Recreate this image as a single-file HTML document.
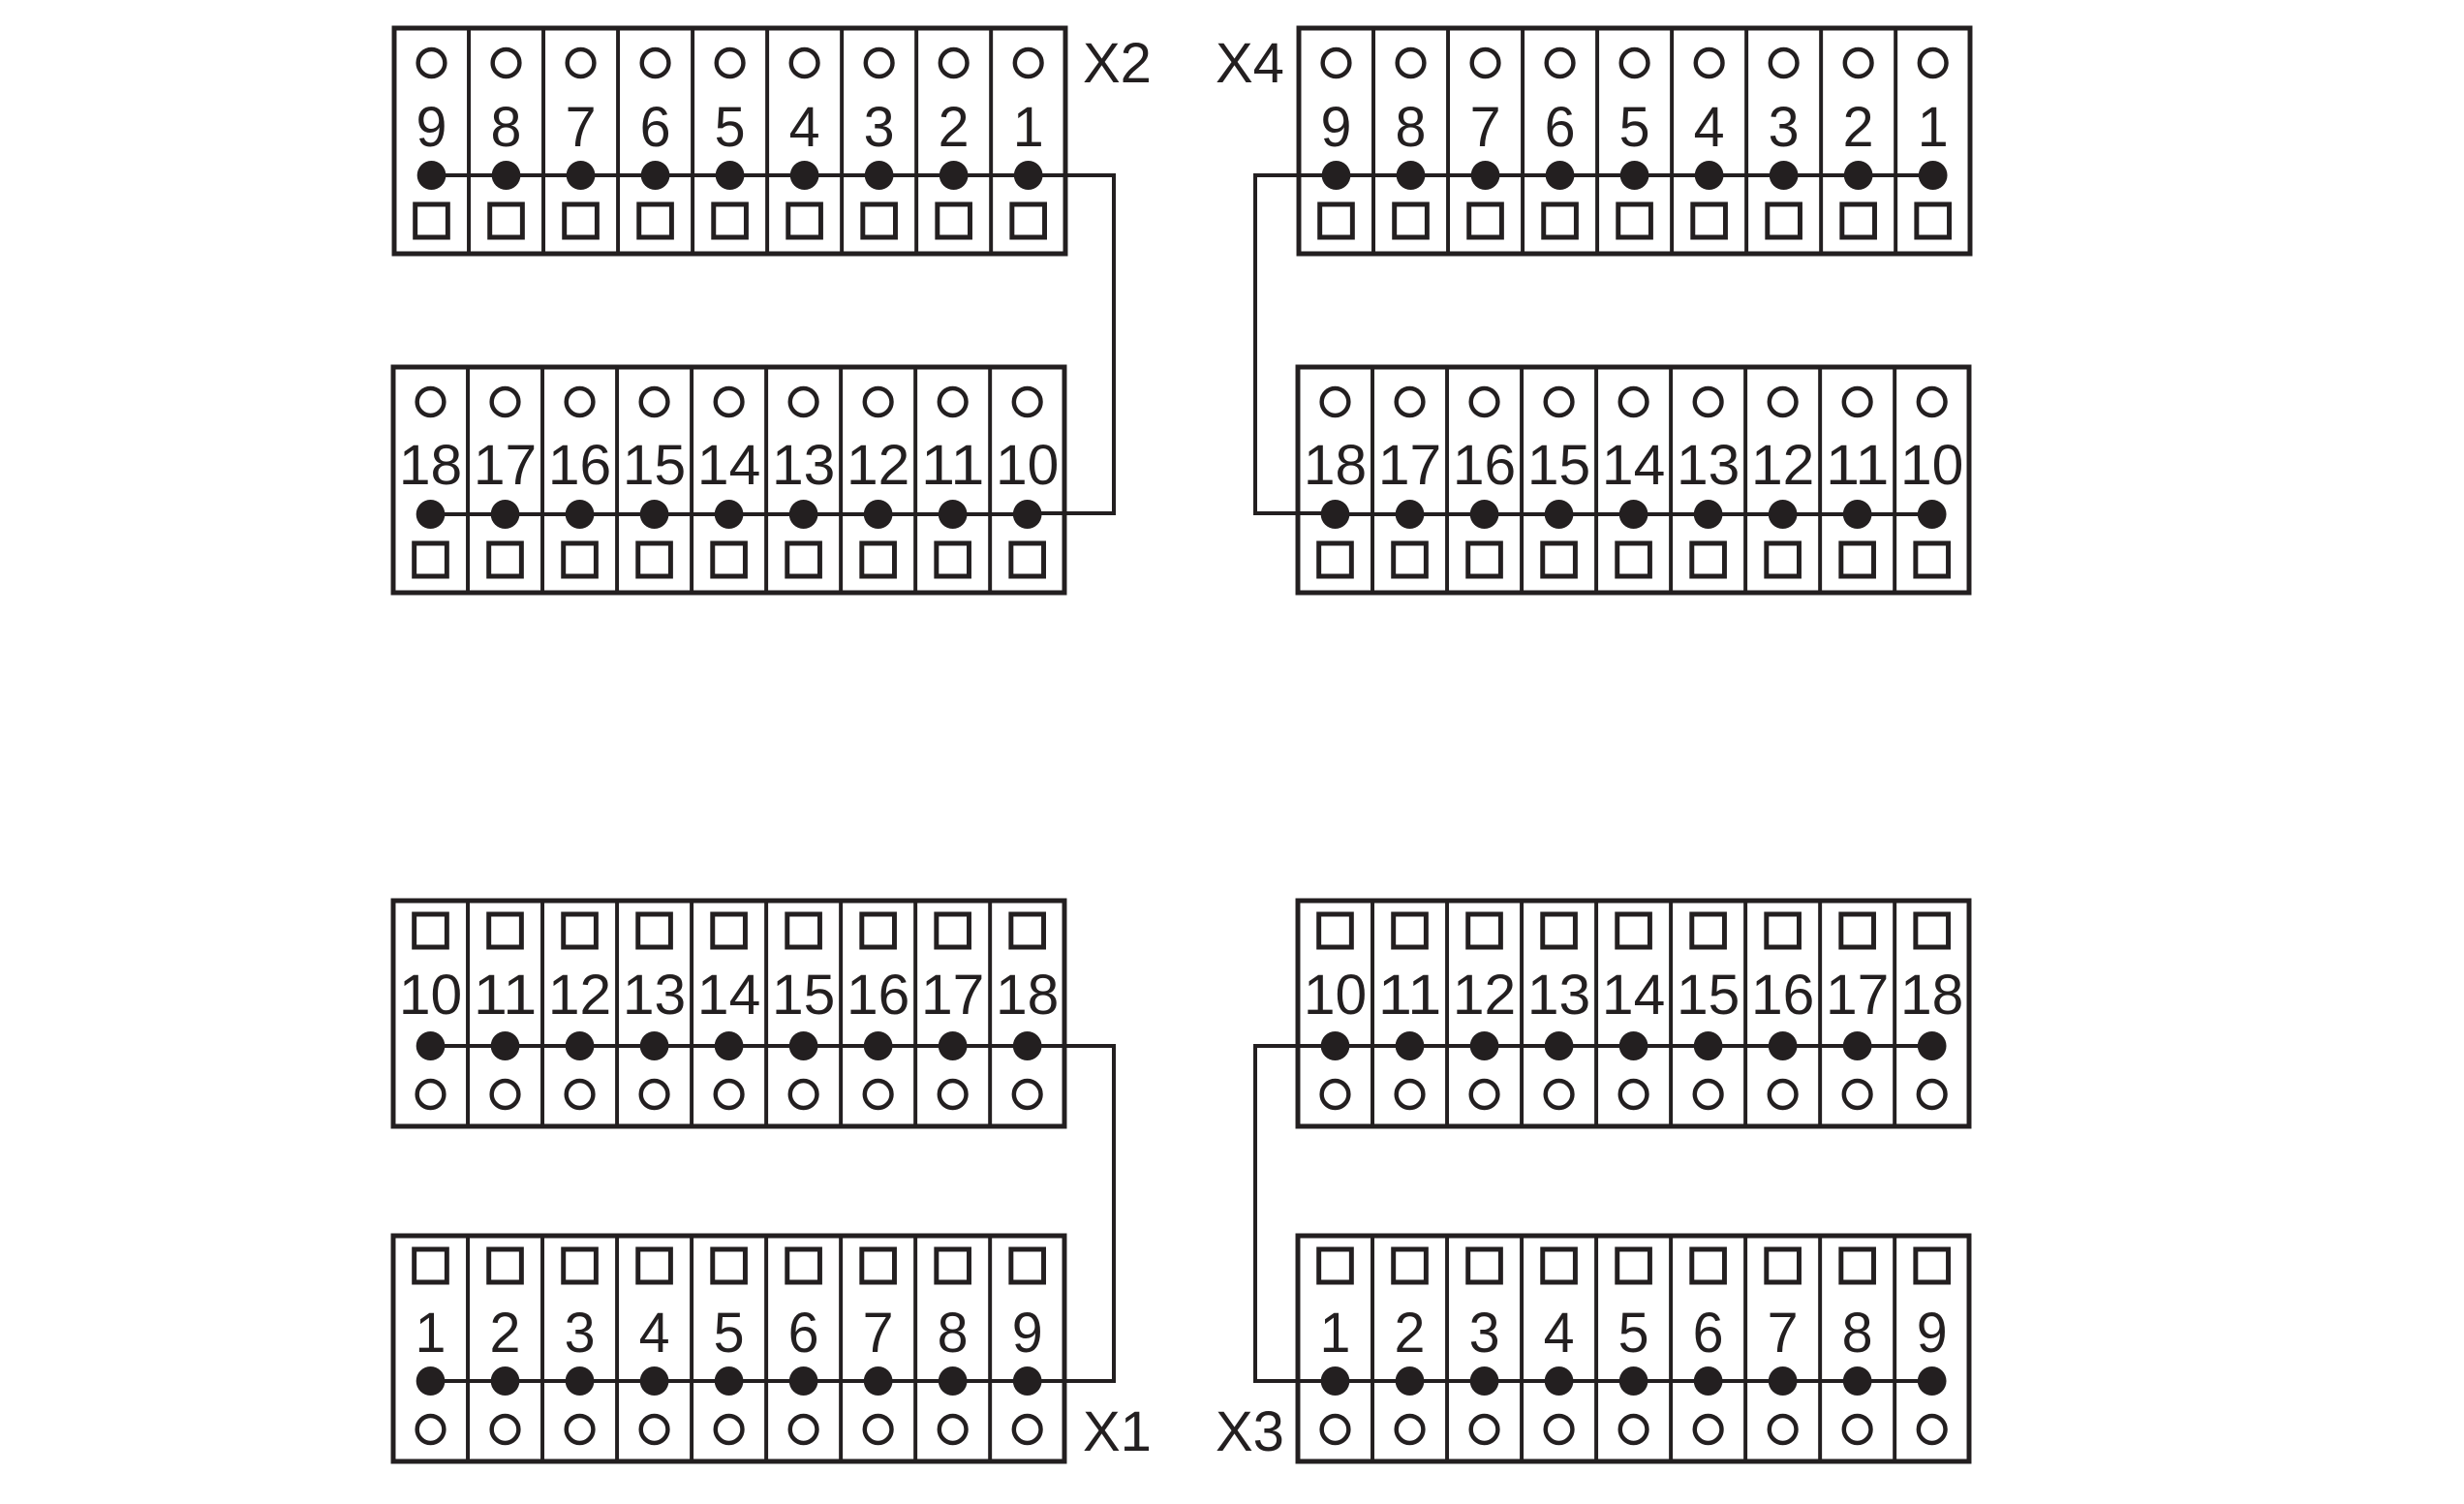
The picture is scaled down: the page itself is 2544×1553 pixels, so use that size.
<!DOCTYPE html>
<html><head><meta charset="utf-8"><style>html,body{margin:0;padding:0;background:#fff}svg{display:block}</style></head>
<body>
<svg width="2544" height="1553" viewBox="0 0 2544 1553" xmlns="http://www.w3.org/2000/svg" font-family="Liberation Sans, sans-serif">
<defs>
<g id="div" stroke="#231f20" stroke-width="4">
<line x1="77.8" y1="0" x2="77.8" y2="233"/><line x1="155.6" y1="0" x2="155.6" y2="233"/><line x1="233.4" y1="0" x2="233.4" y2="233"/><line x1="311.2" y1="0" x2="311.2" y2="233"/><line x1="389" y1="0" x2="389" y2="233"/><line x1="466.8" y1="0" x2="466.8" y2="233"/><line x1="544.6" y1="0" x2="544.6" y2="233"/><line x1="622.4" y1="0" x2="622.4" y2="233"/>
<rect x="0" y="0" width="700" height="233" fill="none" stroke-width="5"/>
</g>
<g id="cell" fill="none" stroke="#231f20" stroke-width="4.5">
<circle cx="0" cy="0" r="14"/>
</g>
<rect id="sq" x="-17" y="-17" width="34" height="34" fill="none" stroke="#231f20" stroke-width="5"/>
<circle id="dot" r="15" fill="#231f20"/>
<g id="rowc"><use href="#cell" x="38.9"/><use href="#cell" x="116.7"/><use href="#cell" x="194.5"/><use href="#cell" x="272.3"/><use href="#cell" x="350.1"/><use href="#cell" x="427.9"/><use href="#cell" x="505.7"/><use href="#cell" x="583.5"/><use href="#cell" x="661.3"/></g>
<g id="rows"><use href="#sq" x="38.9"/><use href="#sq" x="116.7"/><use href="#sq" x="194.5"/><use href="#sq" x="272.3"/><use href="#sq" x="350.1"/><use href="#sq" x="427.9"/><use href="#sq" x="505.7"/><use href="#sq" x="583.5"/><use href="#sq" x="661.3"/></g>
<g id="rowd"><line x1="38.9" y1="0" x2="661.3" y2="0" stroke="#231f20" stroke-width="4"/><use href="#dot" x="38.9"/><use href="#dot" x="116.7"/><use href="#dot" x="194.5"/><use href="#dot" x="272.3"/><use href="#dot" x="350.1"/><use href="#dot" x="427.9"/><use href="#dot" x="505.7"/><use href="#dot" x="583.5"/><use href="#dot" x="661.3"/></g>
<g id="topblk"><use href="#div"/><use href="#rowc" y="36"/><use href="#rowd" y="152"/><use href="#rows" y="199"/></g>
<g id="botblk"><use href="#div"/><use href="#rows" y="31"/><use href="#rowd" y="150"/><use href="#rowc" y="200"/></g>
</defs>

<g fill="none" stroke="#231f20" stroke-width="4">
<polyline points="1060,181 1150,181 1150,530 1060,530"/>
<polyline points="1390,181 1296,181 1296,530 1390,530"/>
<polyline points="1060,1080 1150,1080 1150,1426 1060,1426"/>
<polyline points="1390,1080 1296,1080 1296,1426 1390,1426"/>
</g>

<g font-size="58" fill="#231f20" text-anchor="middle">
<g transform="translate(407,29) scale(0.99,1)"><use href="#topblk"/>
<text x="38.9" y="122">9</text><text x="116.7" y="122">8</text><text x="194.5" y="122">7</text><text x="272.3" y="122">6</text><text x="350.1" y="122">5</text><text x="427.9" y="122">4</text><text x="505.7" y="122">3</text><text x="583.5" y="122">2</text><text x="661.3" y="122">1</text></g>
<g transform="translate(406,379) scale(0.99,1)"><use href="#topblk"/>
<text x="38.9" y="121" textLength="66" lengthAdjust="spacingAndGlyphs">18</text><text x="116.7" y="121" textLength="66" lengthAdjust="spacingAndGlyphs">17</text><text x="194.5" y="121" textLength="66" lengthAdjust="spacingAndGlyphs">16</text><text x="272.3" y="121" textLength="66" lengthAdjust="spacingAndGlyphs">15</text><text x="350.1" y="121" textLength="66" lengthAdjust="spacingAndGlyphs">14</text><text x="427.9" y="121" textLength="66" lengthAdjust="spacingAndGlyphs">13</text><text x="505.7" y="121" textLength="66" lengthAdjust="spacingAndGlyphs">12</text><text x="583.5" y="121" textLength="66" lengthAdjust="spacingAndGlyphs">11</text><text x="661.3" y="121" textLength="66" lengthAdjust="spacingAndGlyphs">10</text></g>
<g transform="translate(1341,29) scale(0.99,1)"><use href="#topblk"/>
<text x="38.9" y="122">9</text><text x="116.7" y="122">8</text><text x="194.5" y="122">7</text><text x="272.3" y="122">6</text><text x="350.1" y="122">5</text><text x="427.9" y="122">4</text><text x="505.7" y="122">3</text><text x="583.5" y="122">2</text><text x="661.3" y="122">1</text></g>
<g transform="translate(1340,379) scale(0.99,1)"><use href="#topblk"/>
<text x="38.9" y="121" textLength="66" lengthAdjust="spacingAndGlyphs">18</text><text x="116.7" y="121" textLength="66" lengthAdjust="spacingAndGlyphs">17</text><text x="194.5" y="121" textLength="66" lengthAdjust="spacingAndGlyphs">16</text><text x="272.3" y="121" textLength="66" lengthAdjust="spacingAndGlyphs">15</text><text x="350.1" y="121" textLength="66" lengthAdjust="spacingAndGlyphs">14</text><text x="427.9" y="121" textLength="66" lengthAdjust="spacingAndGlyphs">13</text><text x="505.7" y="121" textLength="66" lengthAdjust="spacingAndGlyphs">12</text><text x="583.5" y="121" textLength="66" lengthAdjust="spacingAndGlyphs">11</text><text x="661.3" y="121" textLength="66" lengthAdjust="spacingAndGlyphs">10</text></g>
<g transform="translate(406,930) scale(0.99,1)"><use href="#botblk"/>
<text x="38.9" y="117" textLength="66" lengthAdjust="spacingAndGlyphs">10</text><text x="116.7" y="117" textLength="66" lengthAdjust="spacingAndGlyphs">11</text><text x="194.5" y="117" textLength="66" lengthAdjust="spacingAndGlyphs">12</text><text x="272.3" y="117" textLength="66" lengthAdjust="spacingAndGlyphs">13</text><text x="350.1" y="117" textLength="66" lengthAdjust="spacingAndGlyphs">14</text><text x="427.9" y="117" textLength="66" lengthAdjust="spacingAndGlyphs">15</text><text x="505.7" y="117" textLength="66" lengthAdjust="spacingAndGlyphs">16</text><text x="583.5" y="117" textLength="66" lengthAdjust="spacingAndGlyphs">17</text><text x="661.3" y="117" textLength="66" lengthAdjust="spacingAndGlyphs">18</text></g>
<g transform="translate(406,1276) scale(0.99,1)"><use href="#botblk"/>
<text x="38.9" y="120">1</text><text x="116.7" y="120">2</text><text x="194.5" y="120">3</text><text x="272.3" y="120">4</text><text x="350.1" y="120">5</text><text x="427.9" y="120">6</text><text x="505.7" y="120">7</text><text x="583.5" y="120">8</text><text x="661.3" y="120">9</text></g>
<g transform="translate(1340,930) scale(0.99,1)"><use href="#botblk"/>
<text x="38.9" y="117" textLength="66" lengthAdjust="spacingAndGlyphs">10</text><text x="116.7" y="117" textLength="66" lengthAdjust="spacingAndGlyphs">11</text><text x="194.5" y="117" textLength="66" lengthAdjust="spacingAndGlyphs">12</text><text x="272.3" y="117" textLength="66" lengthAdjust="spacingAndGlyphs">13</text><text x="350.1" y="117" textLength="66" lengthAdjust="spacingAndGlyphs">14</text><text x="427.9" y="117" textLength="66" lengthAdjust="spacingAndGlyphs">15</text><text x="505.7" y="117" textLength="66" lengthAdjust="spacingAndGlyphs">16</text><text x="583.5" y="117" textLength="66" lengthAdjust="spacingAndGlyphs">17</text><text x="661.3" y="117" textLength="66" lengthAdjust="spacingAndGlyphs">18</text></g>
<g transform="translate(1340,1276) scale(0.99,1)"><use href="#botblk"/>
<text x="38.9" y="120">1</text><text x="116.7" y="120">2</text><text x="194.5" y="120">3</text><text x="272.3" y="120">4</text><text x="350.1" y="120">5</text><text x="427.9" y="120">6</text><text x="505.7" y="120">7</text><text x="583.5" y="120">8</text><text x="661.3" y="120">9</text></g>
</g>

<g font-size="58" fill="#231f20">
<text x="1118" y="85">X2</text>
<text x="1255" y="85">X4</text>
<text x="1118" y="1498">X1</text>
<text x="1255" y="1498">X3</text>
</g>
</svg>
</body></html>
